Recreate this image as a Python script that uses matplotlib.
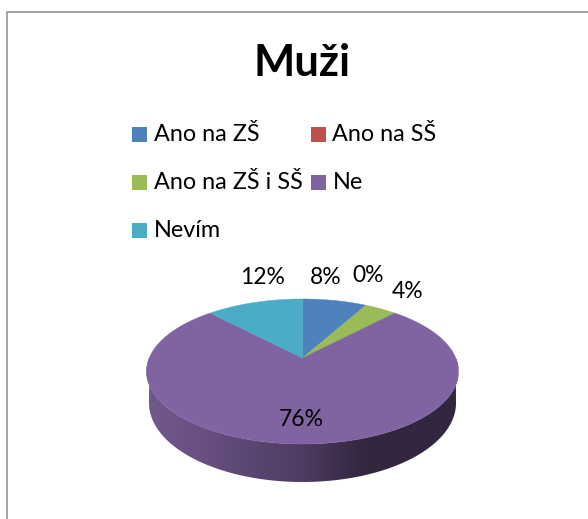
import numpy as np
import matplotlib
matplotlib.use('Agg')
import matplotlib.pyplot as plt
from matplotlib.patches import Polygon, Rectangle

plt.rcParams['font.family'] = ['Lato', 'DejaVu Sans']

title = 'Muži'
categories = ['Ano na ZŠ', 'Ano na SŠ', 'Ano na ZŠ i SŠ', 'Ne', 'Nevím']
values = [8, 0, 4, 76, 12]
colors = ['#4F81BD', '#C0504D', '#9BBB59', '#8064A2', '#4BACC6']

# pie geometry in pixels
cx, cy = 302.5, 358
k, a, c = 153.3, 70, 0.186
# lower rim of the wall
rim_y, rim_rx, rim_ry = 403, 153.5, 79


def project(angle):
    # circle seen in perspective, angle clockwise from the top
    u, v = np.sin(angle), np.cos(angle)
    d = 1 + c * v
    return cx + k * u / d, cy - a * v / d


fig = plt.figure(figsize=(5.88, 5.19), dpi=100)
ax = fig.add_axes([0, 0, 1, 1])
ax.set_xlim(0, 588)
ax.set_ylim(519, 0)
ax.axis('off')

# chart frame
ax.plot([7.3, 7.3, 588], [519, 12.3, 12.3], color='#8c8c8c', lw=1.1)

ax.text(302, 63.5, title, fontsize=31.5, fontweight='bold', ha='center', va='center', color='black')

# legend
leg_x = [132, 311]
leg_y = [134.5, 182.5, 230.5]
for i, name in enumerate(categories):
    lx = leg_x[i % 2]
    ly = leg_y[i // 2]
    ax.add_patch(Rectangle((lx, ly - 7.5), 15, 15, color=colors[i], lw=0))
    ax.text(lx + 21.5, ly, name, fontsize=16.8, ha='left', va='center', color='black')

# side wall with a gradient, left to right
t = np.linspace(np.pi / 2, 3 * np.pi / 2, 200)
x1, y1 = project(t)
x2 = cx + rim_rx * np.sin(t)
y2 = rim_y - rim_ry * np.cos(t)
wall = Polygon(np.vstack([np.c_[x1, y1], np.c_[x2, y2][::-1]]), closed=True, fc='none', ec='none')
ax.add_patch(wall)
stops_x = np.array([146, 200, 300, 365, 458])
stops = np.array([[0x72, 0x59, 0x8c], [0x68, 0x50, 0x82], [0x4f, 0x3c, 0x62], [0x33, 0x26, 0x3f], [0x33, 0x26, 0x3f]])
xs = np.arange(146, 459)
grad = np.stack([np.interp(xs, stops_x, stops[:, j]) for j in range(3)], axis=1)[None, :, :] / 255
im = ax.imshow(grad, extent=[146, 458, 490, 350], aspect='auto', zorder=1, interpolation='bilinear')
im.set_clip_path(wall)
ax.set_xlim(0, 588)
ax.set_ylim(519, 0)

# top slices
start = 0.0
total = sum(values)
for val, col in zip(values, colors):
    if val == 0:
        continue
    end = start + 2 * np.pi * val / total
    t = np.linspace(start, end, 200)
    x, y = project(t)
    pts = np.vstack([[cx, cy], np.c_[x, y]])
    ax.add_patch(Polygon(pts, closed=True, fc=col, ec=col, lw=0.3, zorder=2))
    start = end

# slice labels
label_x = [326, 368, 408, 301, 263]
label_y = [277.5, 275.5, 291.5, 419.5, 277.5]
for val, lx, ly in zip(values, label_x, label_y):
    ax.text(lx, ly, f'{val}%', fontsize=16.5, ha='center', va='center', color='black', zorder=3)

fig.savefig('out.png', dpi=100)
